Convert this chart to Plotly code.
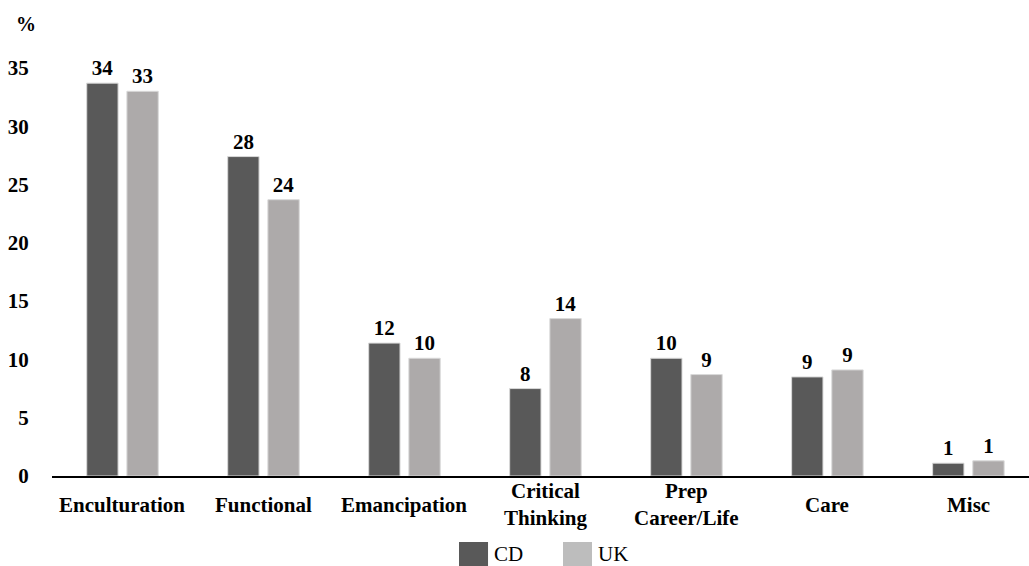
import plotly.graph_objects as go

categories = ["Enculturation", "Functional", "Emancipation", "Critical<br>Thinking",
              "Prep<br>Career/Life", "Care", "Misc"]
series_names = ["CD", "UK"]
cd_values = [33.7, 27.4, 11.4, 7.5, 10.1, 8.5, 1.1]
uk_values = [33.0, 23.7, 10.1, 13.5, 8.7, 9.1, 1.3]
cd_labels = ["34", "28", "12", "8", "10", "9", "1"]
uk_labels = ["33", "24", "10", "14", "9", "9", "1"]
y_ticks = [0, 5, 10, 15, 20, 25, 30, 35]

FONT = "Liberation Serif"
CD_COLOR = "#595959"
UK_COLOR = "#adaaaa"
UK_LEGEND = "#bdbdbd"
x_idx = list(range(len(categories)))

fig = go.Figure()
for name, vals, labs, col in [("CD", cd_values, cd_labels, CD_COLOR),
                              ("UK", uk_values, uk_labels, UK_COLOR)]:
    fig.add_trace(go.Bar(
        name=name, x=x_idx, y=vals, text=labs, textposition="outside",
        marker=dict(color=col, line=dict(color="#d9d9d9", width=1)),
        textfont=dict(family=FONT, size=21, color="black", weight="bold"),
        cliponaxis=False, showlegend=False, hoverinfo="skip",
    ))

for i, c in enumerate(categories):
    fig.add_annotation(x=i, xref="x", y=-0.065, yref="paper", text=c,
                       showarrow=False, yanchor="middle", align="center",
                       font=dict(family=FONT, size=21, color="black", weight="bold"))

fig.add_annotation(x=-0.0267, xref="paper", y=1.02, yref="paper", text="%",
                   showarrow=False, xanchor="center", yanchor="middle",
                   font=dict(family=FONT, size=20, color="black", weight="bold"))

# manual legend (large square swatches)
legend_items = [("CD", CD_COLOR, 0.4166), ("UK", UK_LEGEND, 0.523)]
for name, col, x0 in legend_items:
    fig.add_shape(type="rect", xref="paper", yref="paper",
                  x0=x0, x1=x0 + 0.0297, y0=-0.21, y1=-0.149,
                  fillcolor=col, line=dict(width=0))
    fig.add_annotation(x=x0 + 0.034, xref="paper", y=-0.176, yref="paper",
                       text=name, showarrow=False, xanchor="left", yanchor="middle",
                       font=dict(family=FONT, size=21, color="black"))

fig.update_layout(
    width=1029, height=566,
    margin=dict(l=52, r=0, t=33, b=90, autoexpand=False),
    plot_bgcolor="white", paper_bgcolor="white",
    barmode="group", bargap=0.43, bargroupgap=0.22,
    showlegend=False,
    xaxis=dict(range=[-0.5, 6.43], showticklabels=False, ticks="",
               showline=True, linecolor="black", linewidth=2, showgrid=False,
               zeroline=False),
    yaxis=dict(range=[0, 38], tickvals=y_ticks, showgrid=False, zeroline=False,
               showline=False, ticks="outside", ticklen=18, tickcolor="white",
               tickfont=dict(family=FONT, size=21, color="black", weight="bold")),
    font=dict(family=FONT),
)

fig.write_html("out.html", config={"displayModeBar": False},
               post_script="document.body.style.margin='0';document.body.style.overflow='hidden';")
